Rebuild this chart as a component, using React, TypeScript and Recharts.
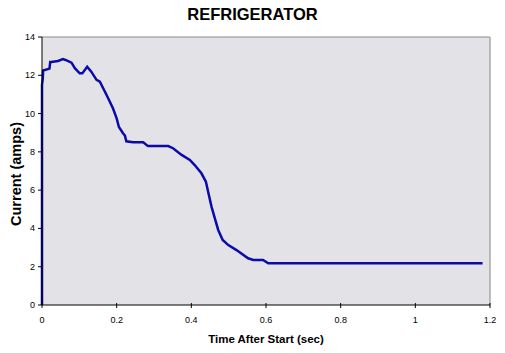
import React from "react";
import {
  LineChart,
  Line,
  XAxis,
  YAxis,
  ReferenceArea,
  ReferenceLine,
  Label,
} from "recharts";

// time after start (sec) and current (amps)
const times = [
  0, 0, 0.002, 0.003, 0.02, 0.022, 0.025, 0.043, 0.056, 0.063,
  0.079, 0.088, 0.101, 0.108, 0.121, 0.132, 0.146, 0.155, 0.173, 0.19,
  0.2, 0.206, 0.217, 0.222, 0.226, 0.244, 0.271, 0.284, 0.338, 0.351,
  0.374, 0.396, 0.409, 0.427, 0.439, 0.445, 0.454, 0.463, 0.472, 0.484,
  0.499, 0.521, 0.552, 0.566, 0.592, 0.606, 1.18,
];
const amps = [
  0, 11.5, 11.8, 12.25, 12.35, 12.7, 12.7, 12.75, 12.85, 12.8,
  12.66, 12.37, 12.1, 12.1, 12.45, 12.19, 11.76, 11.67, 10.97, 10.28,
  9.75, 9.3, 8.97, 8.85, 8.55, 8.5, 8.5, 8.3, 8.3, 8.19,
  7.84, 7.58, 7.31, 6.88, 6.44, 5.92, 5.14, 4.53, 3.92, 3.4,
  3.13, 2.87, 2.44, 2.35, 2.35, 2.18, 2.18,
];

const xTicks = [0, 0.2, 0.4, 0.6, 0.8, 1, 1.2];
const yTicks = [0, 2, 4, 6, 8, 10, 12, 14];

const data = times.map((t, i) => ({ t, amps: amps[i] }));

const FONT = "Arial, 'Liberation Sans', sans-serif";

const XTick = (props: any) => {
  const { x, y, payload } = props;
  return (
    <g>
      <line x1={x} x2={x} y1={y - 2} y2={y + 3} stroke="#000" />
      <text x={x} y={y + 18} textAnchor="middle" fontSize={9} fontFamily={FONT} fill="#000">
        {payload.value}
      </text>
    </g>
  );
};

const YTick = (props: any) => {
  const { x, y, payload } = props;
  return (
    <g>
      <line x1={x - 4} x2={x} y1={y} y2={y} stroke="#000" />
      <text x={x - 7} y={y + 3} textAnchor="end" fontSize={9} fontFamily={FONT} fill="#000">
        {payload.value}
      </text>
    </g>
  );
};

export default function App() {
  return (
    <div style={{ position: "absolute", left: 0, top: 0, width: 505, height: 353, background: "#fff" }}>
      <div
        style={{
          position: "absolute",
          left: 0,
          top: 5,
          width: 505,
          textAlign: "center",
          fontFamily: FONT,
          fontWeight: "bold",
          fontSize: 16.5,
        }}
      >
        REFRIGERATOR
      </div>
      <LineChart
        width={505}
        height={353}
        data={data}
        margin={{ top: 37, right: 15, bottom: 18, left: 0 }}
      >
        <ReferenceArea x1={0} x2={1.2} y1={0} y2={14} fill="#e3e2e7" fillOpacity={1} stroke="none" />
        <ReferenceLine y={14} stroke="#8a8a8a" />
        <ReferenceLine x={1.2} stroke="#a8a8a8" strokeWidth={1.5} />
        <XAxis
          dataKey="t"
          type="number"
          domain={[0, 1.2]}
          ticks={xTicks}
          height={30}
          stroke="#000"
          tickSize={0}
          tickMargin={0}
          tick={<XTick />}
        >
          <Label
            content={() => (
              <text x={266} y={343} textAnchor="middle" fontSize={11.5} fontWeight="bold" fontFamily={FONT}>
                Time After Start (sec)
              </text>
            )}
          />
        </XAxis>
        <YAxis
          type="number"
          domain={[0, 14]}
          ticks={yTicks}
          width={42}
          stroke="#000"
          tickSize={0}
          tickMargin={0}
          tick={<YTick />}
        >
          <Label
            content={() => (
              <text
                x={21}
                y={174}
                transform="rotate(-90 21 174)"
                textAnchor="middle"
                fontSize={14.5}
                fontWeight="bold"
                fontFamily={FONT}
              >
                Current (amps)
              </text>
            )}
          />
        </YAxis>
        <Line
          type="linear"
          dataKey="amps"
          stroke="#0b0ba8"
          strokeWidth={2.5}
          dot={false}
          isAnimationActive={false}
        />
      </LineChart>
    </div>
  );
}
